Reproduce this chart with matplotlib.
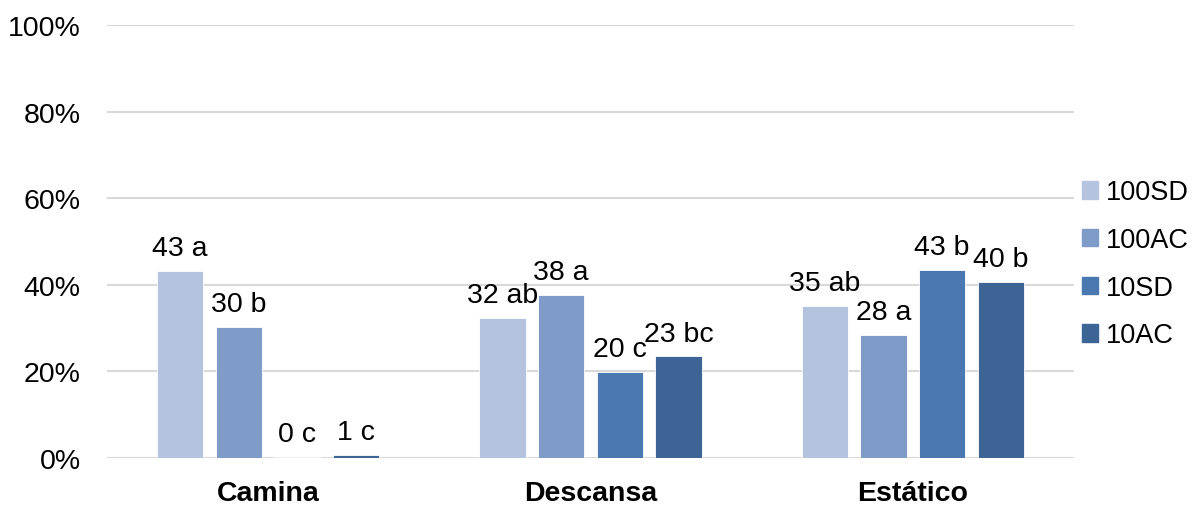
import matplotlib.pyplot as plt
import numpy as np
from matplotlib.patches import Patch

plt.rcParams['font.family'] = ['Liberation Sans', 'DejaVu Sans']

# datos
categorias = ['Camina', 'Descansa', 'Estático']
series = ['100SD', '100AC', '10SD', '10AC']
valores = {
    '100SD': [43.2, 32.3, 35.1],
    '100AC': [30.3, 37.6, 28.4],
    '10SD': [0.3, 19.9, 43.4],
    '10AC': [0.7, 23.5, 40.6],
}
etiquetas = {
    '100SD': ['43 a', '32 ab', '35 ab'],
    '100AC': ['30 b', '38 a', '28 a'],
    '10SD': ['0 c', '20 c', '43 b'],
    '10AC': ['1 c', '23 bc', '40 b'],
}
colores = ['#b4c3de', '#7f9cc8', '#4a78b0', '#3c6494']

fig = plt.figure(figsize=(11.94, 5.06), dpi=100)
ax = fig.add_axes([107/1194, 1-459/506, (1074-107)/1194, (459-26)/506])

x = np.arange(len(categorias))
ancho = 0.143
paso = 0.182

for i, s in enumerate(series):
    pos = x + (i - 1.5) * paso
    ax.bar(pos, valores[s], ancho, color=colores[i], edgecolor='white',
           linewidth=0.6, zorder=3)
    for xp, v, t in zip(pos, valores[s], etiquetas[s]):
        ax.annotate(t, xy=(xp, v), xytext=(0, 7), textcoords='offset points',
                    ha='center', va='bottom', fontsize=20.5, color='black')

ax.set_xlim(-0.5, 2.5)
ax.set_ylim(0, 100)
ax.set_yticks(np.arange(0, 101, 20))
ax.set_yticklabels([f'{v}%' for v in range(0, 101, 20)], fontsize=20.5)
ax.set_xticks(x)
ax.set_xticklabels(categorias, fontsize=20.5, fontweight='bold')
ax.tick_params(axis='both', length=0)
ax.tick_params(axis='y', pad=19)
ax.tick_params(axis='x', pad=16)
ax.yaxis.grid(True, color='#d9d9d9', linewidth=1.5, zorder=0)
for sp in ax.spines.values():
    sp.set_visible(False)

handles = [Patch(color=c) for c in colores]
fig.legend(handles, series, loc='center left', bbox_to_anchor=(1082/1194, 1-265/506),
           frameon=False, fontsize=19.5, handlelength=0.6, handleheight=0.6,
           handletextpad=0.3, labelspacing=0.8, borderaxespad=0, borderpad=0)

fig.savefig('out.png', dpi=100)
